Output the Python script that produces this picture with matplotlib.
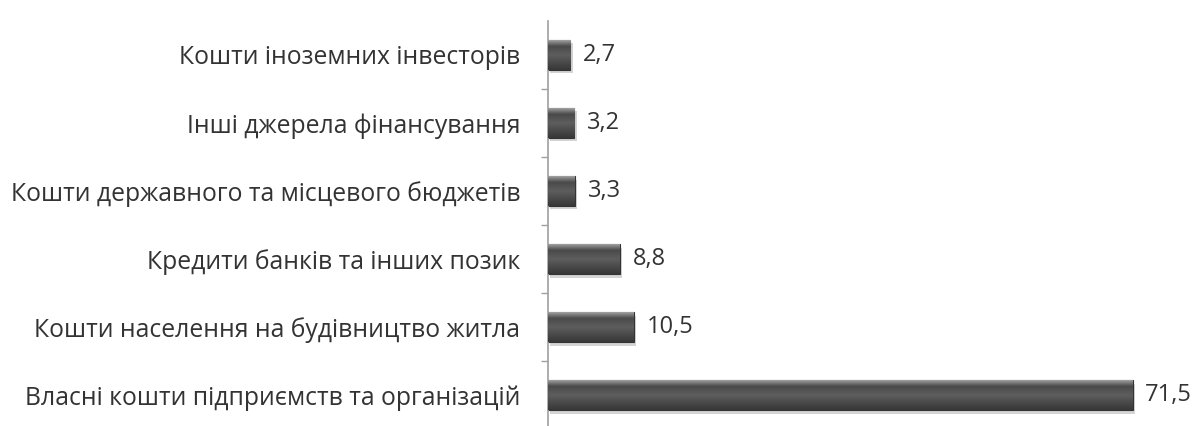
import matplotlib.pyplot as plt
import numpy as np
from matplotlib.colors import LinearSegmentedColormap

categories = [
    'Власні кошти підприємств та організацій',
    'Кошти населення на будівництво житла',
    'Кредити банків та інших позик',
    'Кошти державного та місцевого бюджетів',
    'Інші джерела фінансування',
    'Кошти іноземних інвесторів',
]
values = [71.5, 10.5, 8.8, 3.3, 3.2, 2.7]
value_labels = ['71,5', '10,5', '8,8', '3,3', '3,2', '2,7']

plt.rcParams['font.family'] = ['Open Sans', 'DejaVu Sans']

fig = plt.figure(figsize=(12.03, 4.26), dpi=100)
ax = fig.add_axes([0.4555, 0.0, 0.544, 0.951])

y = np.arange(len(categories))
h = 0.44

# bevelled look: vertical gradient clipped to each bar
shade = LinearSegmentedColormap.from_list(
    'bevel', [(0.0, '#383838'), (0.12, '#404040'), (0.5, '#5e5e5e'),
              (0.8, '#4a4a4a'), (0.92, '#7c7c7c'), (1.0, '#a0a0a0')])
grad = np.linspace(0, 1, 64).reshape(-1, 1)

ax.barh(y - 0.05, values, height=h, left=0.3, color='#d4d4d4', zorder=1)
bars = ax.barh(y, values, height=h, color='#4d4d4d', edgecolor='#333333',
               linewidth=0.8, zorder=2)
for b in bars:
    x0, y0 = b.get_x(), b.get_y()
    im = ax.imshow(grad, cmap=shade, aspect='auto', origin='lower',
                   extent=(x0, x0 + b.get_width(), y0, y0 + b.get_height()),
                   zorder=3)
    im.set_clip_path(b)

for yi, v, lab in zip(y, values, value_labels):
    ax.annotate(lab, (v, yi), xytext=(9, 0), textcoords='offset points',
                va='center', ha='left', fontsize=17, color='#333333')

ax.set_xlim(0, 80)
ax.set_ylim(-0.45, 5.5)
ax.set_yticks(y)
ax.set_yticklabels(categories, fontsize=17.8, color='#333333')
ax.set_yticks(np.arange(0.5, 5.5, 1), minor=True)
ax.tick_params(axis='y', which='major', length=0, pad=20)
ax.tick_params(axis='y', which='minor', length=5, color='#a0a0a0', width=1)
ax.set_xticks([])

for s in ['top', 'right', 'bottom']:
    ax.spines[s].set_visible(False)
ax.spines['left'].set_color('#a0a0a0')
ax.spines['left'].set_linewidth(1.2)

fig.savefig('out.png', dpi=100)
